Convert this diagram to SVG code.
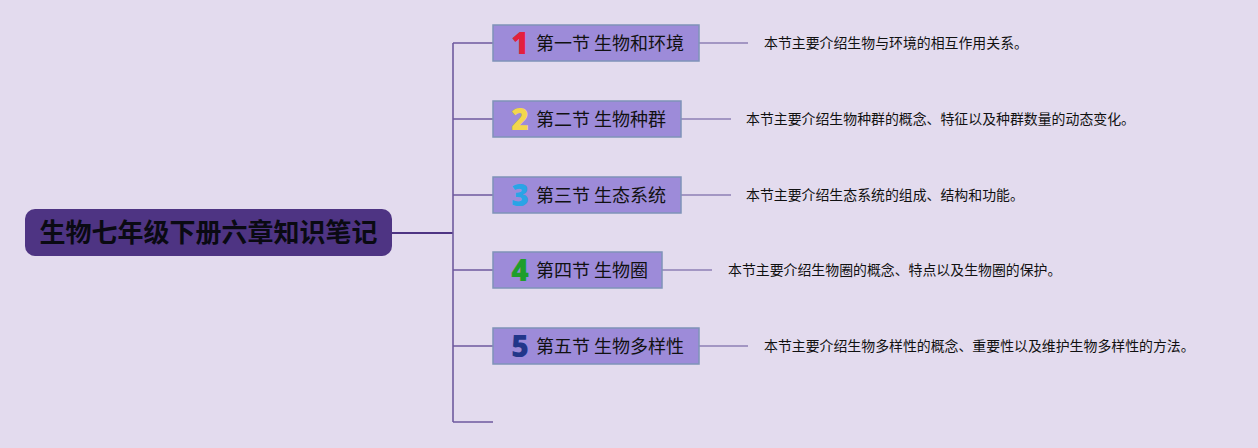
<svg xmlns="http://www.w3.org/2000/svg" width="1258" height="448" viewBox="0 0 1258 448">
<style>
.bg{fill:#e3dbee}
.root{fill:#4e3483}
.rootText{font-family:"Noto Sans CJK SC","Noto Sans",sans-serif;font-weight:700;font-size:26px;fill:#0a0a12}
.node{fill:#9d8bd9;stroke:#7f93b8;stroke-width:1.5}
.num{font-family:"Noto Sans","Liberation Sans",sans-serif;font-weight:900;font-size:30px}
.label{font-family:"Noto Sans CJK SC","Noto Sans",sans-serif;font-size:18px;fill:#111}
.desc{font-family:"Noto Sans CJK SC","Noto Sans",sans-serif;font-size:13.9px;fill:#111}
.conn{fill:none;stroke:#6f5a9e;stroke-width:1.6}
.connDark{fill:none;stroke:#4e3483;stroke-width:1.8}
.connLight{fill:none;stroke:#8f80b5;stroke-width:1.5}
</style>
<rect class="bg" x="0" y="0" width="1258" height="448"/>
<g id="connectors">
<path class="connDark" d="M392 233 H453"/>
<path class="conn" d="M453 43 V422"/>
<path class="conn" d="M453 43 H493 M453 119 H493 M453 195 H493 M453 270 H493 M453 346 H493 M453 422 H493"/>
<path class="connLight" d="M699 43 H748 M681 119 H731 M681 195 H731 M662 270 H712 M699 346 H748"/>
</g>
<g id="root">
<rect class="root" x="25" y="209" width="367" height="47" rx="10"/>
<text class="rootText" x="208.5" y="242" text-anchor="middle">生物七年级下册六章知识笔记</text>
</g>
<g id="node1">
<rect class="node" x="493" y="25" width="206" height="36"/>
<text class="num" x="520" y="54" text-anchor="middle" fill="#e3203c">1</text>
<text class="label" x="536" y="50">第一节 生物和环境</text>
</g>
<g id="node2">
<rect class="node" x="493" y="101" width="188" height="36"/>
<text class="num" x="520" y="130" text-anchor="middle" fill="#f3d64c">2</text>
<text class="label" x="536" y="126">第二节 生物种群</text>
</g>
<g id="node3">
<rect class="node" x="493" y="177" width="188" height="36"/>
<text class="num" x="520" y="206" text-anchor="middle" fill="#2aa4e6">3</text>
<text class="label" x="536" y="202">第三节 生态系统</text>
</g>
<g id="node4">
<rect class="node" x="493" y="252" width="169" height="36"/>
<text class="num" x="520" y="281" text-anchor="middle" fill="#1f9e2b">4</text>
<text class="label" x="536" y="277">第四节 生物圈</text>
</g>
<g id="node5">
<rect class="node" x="493" y="328" width="206" height="36"/>
<text class="num" x="520" y="357" text-anchor="middle" fill="#22368a">5</text>
<text class="label" x="536" y="353">第五节 生物多样性</text>
</g>
<g id="desc1"><text class="desc" x="764" y="48">本节主要介绍生物与环境的相互作用关系。</text></g>
<g id="desc2"><text class="desc" x="746" y="124">本节主要介绍生物种群的概念、特征以及种群数量的动态变化。</text></g>
<g id="desc3"><text class="desc" x="746" y="200">本节主要介绍生态系统的组成、结构和功能。</text></g>
<g id="desc4"><text class="desc" x="728" y="275">本节主要介绍生物圈的概念、特点以及生物圈的保护。</text></g>
<g id="desc5"><text class="desc" x="764" y="351">本节主要介绍生物多样性的概念、重要性以及维护生物多样性的方法。</text></g>
</svg>
